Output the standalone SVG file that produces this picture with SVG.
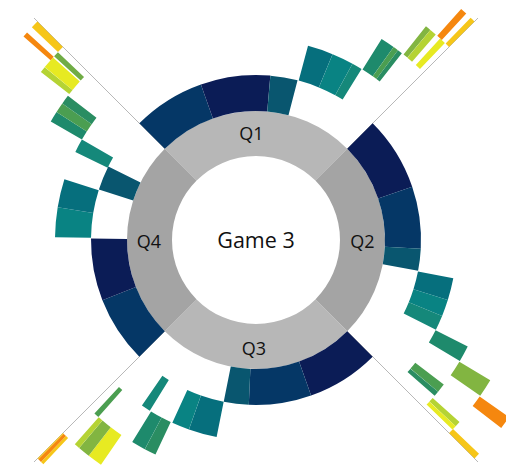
<svg xmlns="http://www.w3.org/2000/svg" width="506" height="470" viewBox="0 0 506 470">
<style>
circle{fill:none}
.ring{stroke-width:45px}
.L2{stroke-width:36px}.L3{stroke-width:36px}.L4{stroke-width:36px}.L5{stroke-width:36px}.L6{stroke-width:36px}
.qa{stroke:#b7b7b7}.qb{stroke:#a4a4a4}
.n1{stroke:#0b1c56}.n2{stroke:#053766}.n3{stroke:#09566f}
.t1{stroke:#066f7d}.t2{stroke:#098383}.t3{stroke:#15887a}
.g1{stroke:#1e8a6c}.g2{stroke:#2a8d62}.g3{stroke:#4b9e51}
.y1{stroke:#82b541}.y2{stroke:#b5d334}.y3{stroke:#e7ea22}.yg{stroke:#70ac45}
.o1{stroke:#f5870f}.o2{stroke:#f6c619}
.div{stroke:#b8b8b8;stroke-width:1}
text{font-family:"Open Sans","Liberation Sans",sans-serif;fill:#111;text-anchor:middle}
.lab{font-size:18px}
.title{font-size:21.5px}
</style>
<g id="connectors">
<line class="div" x1="347.2" y1="148.8" x2="478" y2="18"/>
<line class="div" x1="164.8" y1="148.8" x2="34" y2="18"/>
<line class="div" x1="347.2" y1="331.2" x2="478" y2="462"/>
<line class="div" x1="164.8" y1="331.2" x2="34" y2="462"/>
</g>
<g transform="translate(256 240)">
<g id="q1">
<circle class="ring qa" r="106.5" pathLength="360" stroke-dasharray="90 360" transform="rotate(-135)"/>
<circle class="L2 n2" r="147" pathLength="360" stroke-dasharray="25.5 360" transform="rotate(-135)"/>
<circle class="L2 n1" r="147" pathLength="360" stroke-dasharray="24.5 360" transform="rotate(-109.5)"/>
<circle class="L2 n3" r="147" pathLength="360" stroke-dasharray="9.6 360" transform="rotate(-85)"/>
<circle class="L3 t1" r="183" pathLength="360" stroke-dasharray="7.4 360" transform="rotate(-75)"/>
<circle class="L3 t2" r="183" pathLength="360" stroke-dasharray="6.3 360" transform="rotate(-67.6)"/>
<circle class="L3 t3" r="183" pathLength="360" stroke-dasharray="3 360" transform="rotate(-61.3)"/>
<circle class="L4 g1" r="219" pathLength="360" stroke-dasharray="3.5 360" transform="rotate(-58)"/>
<circle class="L4 g3" r="219" pathLength="360" stroke-dasharray="1.3 360" transform="rotate(-54.5)"/>
<circle class="L4 g2" r="219" pathLength="360" stroke-dasharray="1.2 360" transform="rotate(-53.2)"/>
<circle class="L5 y1" r="255" pathLength="360" stroke-dasharray="1.2 360" transform="rotate(-51.5)"/>
<circle class="L5 y2" r="255" pathLength="360" stroke-dasharray="1.5 360" transform="rotate(-50.3)"/>
<circle class="L5 y3" r="255" pathLength="360" stroke-dasharray="1.4 360" transform="rotate(-47.6)"/>
<circle class="L6 o1" r="291" pathLength="360" stroke-dasharray="1.3 360" transform="rotate(-48.4)"/>
<circle class="L6 o2" r="291" pathLength="360" stroke-dasharray="1 360" transform="rotate(-46)"/>
<text class="lab" x="-4.5" y="-100">Q1</text>
</g>
<g id="q2">
<circle class="ring qb" r="106.5" pathLength="360" stroke-dasharray="90 360" transform="rotate(-45)"/>
<circle class="L2 n1" r="147" pathLength="360" stroke-dasharray="26.2 360" transform="rotate(-45)"/>
<circle class="L2 n2" r="147" pathLength="360" stroke-dasharray="21.8 360" transform="rotate(-18.8)"/>
<circle class="L2 n3" r="147" pathLength="360" stroke-dasharray="7.8 360" transform="rotate(3)"/>
<circle class="L3 t1" r="183" pathLength="360" stroke-dasharray="6.4 360" transform="rotate(11)"/>
<circle class="L3 t2" r="183" pathLength="360" stroke-dasharray="4.8 360" transform="rotate(17.4)"/>
<circle class="L3 t3" r="183" pathLength="360" stroke-dasharray="4.3 360" transform="rotate(22.2)"/>
<circle class="L4 g1" r="219" pathLength="360" stroke-dasharray="4 360" transform="rotate(26.7)"/>
<circle class="L4 g3" r="219" pathLength="360" stroke-dasharray="2.2 360" transform="rotate(37.6)"/>
<circle class="L4 g2" r="219" pathLength="360" stroke-dasharray="1.3 360" transform="rotate(39.8)"/>
<circle class="L5 y1" r="255" pathLength="360" stroke-dasharray="3.9 360" transform="rotate(30.9)"/>
<circle class="L5 y2" r="255" pathLength="360" stroke-dasharray="1.2 360" transform="rotate(41.8)"/>
<circle class="L5 y3" r="255" pathLength="360" stroke-dasharray="1 360" transform="rotate(43)"/>
<circle class="L6 o1" r="291" pathLength="360" stroke-dasharray="2.5 360" transform="rotate(35)"/>
<circle class="L6 o2" r="291" pathLength="360" stroke-dasharray="1.2 360" transform="rotate(43.8)"/>
<text class="lab" x="106.5" y="8">Q2</text>
</g>
<g id="q3">
<circle class="ring qa" r="106.5" pathLength="360" stroke-dasharray="90 360" transform="rotate(45)"/>
<circle class="L2 n1" r="147" pathLength="360" stroke-dasharray="25.5 360" transform="rotate(45)"/>
<circle class="L2 n2" r="147" pathLength="360" stroke-dasharray="22 360" transform="rotate(70.5)"/>
<circle class="L2 n3" r="147" pathLength="360" stroke-dasharray="8.8 360" transform="rotate(92.5)"/>
<circle class="L3 t1" r="183" pathLength="360" stroke-dasharray="8.2 360" transform="rotate(101.3)"/>
<circle class="L3 t2" r="183" pathLength="360" stroke-dasharray="5.1 360" transform="rotate(109.5)"/>
<circle class="L3 t3" r="183" pathLength="360" stroke-dasharray="2.7 360" transform="rotate(121.9)"/>
<circle class="L4 g2" r="219" pathLength="360" stroke-dasharray="2.9 360" transform="rotate(115.1)"/>
<circle class="L4 g1" r="219" pathLength="360" stroke-dasharray="3.5 360" transform="rotate(118)"/>
<circle class="L4 g3" r="219" pathLength="360" stroke-dasharray="1.3 360" transform="rotate(131.7)"/>
<circle class="L5 y3" r="255" pathLength="360" stroke-dasharray="3.2 360" transform="rotate(124.6)"/>
<circle class="L5 y1" r="255" pathLength="360" stroke-dasharray="2.6 360" transform="rotate(127.8)"/>
<circle class="L5 y2" r="255" pathLength="360" stroke-dasharray="1.2 360" transform="rotate(130.4)"/>
<circle class="L6 o2" r="291" pathLength="360" stroke-dasharray="0.6 360" transform="rotate(133.5)"/>
<circle class="L6 o1" r="291" pathLength="360" stroke-dasharray="0.7 360" transform="rotate(134.1)"/>
<circle class="L6 o2" r="291" pathLength="360" stroke-dasharray="0.2 360" transform="rotate(134.8)"/>
<text class="lab" x="-2" y="115">Q3</text>
</g>
<g id="q4">
<circle class="ring qb" r="106.5" pathLength="360" stroke-dasharray="90 360" transform="rotate(135)"/>
<circle class="L2 n2" r="147" pathLength="360" stroke-dasharray="23.6 360" transform="rotate(135)"/>
<circle class="L2 n1" r="147" pathLength="360" stroke-dasharray="21.9 360" transform="rotate(158.6)"/>
<circle class="L2 n3" r="147" pathLength="360" stroke-dasharray="8.7 360" transform="rotate(197.8)"/>
<circle class="L3 t2" r="183" pathLength="360" stroke-dasharray="8.6 360" transform="rotate(180.8)"/>
<circle class="L3 t1" r="183" pathLength="360" stroke-dasharray="8.2 360" transform="rotate(189.4)"/>
<circle class="L3 t3" r="183" pathLength="360" stroke-dasharray="4 360" transform="rotate(206)"/>
<circle class="L4 g1" r="219" pathLength="360" stroke-dasharray="2.7 360" transform="rotate(210)"/>
<circle class="L4 g3" r="219" pathLength="360" stroke-dasharray="2.5 360" transform="rotate(212.7)"/>
<circle class="L4 g2" r="219" pathLength="360" stroke-dasharray="2.3 360" transform="rotate(215.2)"/>
<circle class="L5 y2" r="255" pathLength="360" stroke-dasharray="1.3 360" transform="rotate(218)"/>
<circle class="L5 y3" r="255" pathLength="360" stroke-dasharray="2.7 360" transform="rotate(219.3)"/>
<circle class="L5 yg" r="255" pathLength="360" stroke-dasharray="1.2 360" transform="rotate(222.3)"/>
<circle class="L6 o1" r="291" pathLength="360" stroke-dasharray="1 360" transform="rotate(221.2)"/>
<circle class="L6 o2" r="291" pathLength="360" stroke-dasharray="1.5 360" transform="rotate(223.5)"/>
<text class="lab" x="-107" y="8">Q4</text>
</g>
<g id="center">
<text class="title" x="0" y="8">Game 3</text>
</g>
</g>
</svg>
